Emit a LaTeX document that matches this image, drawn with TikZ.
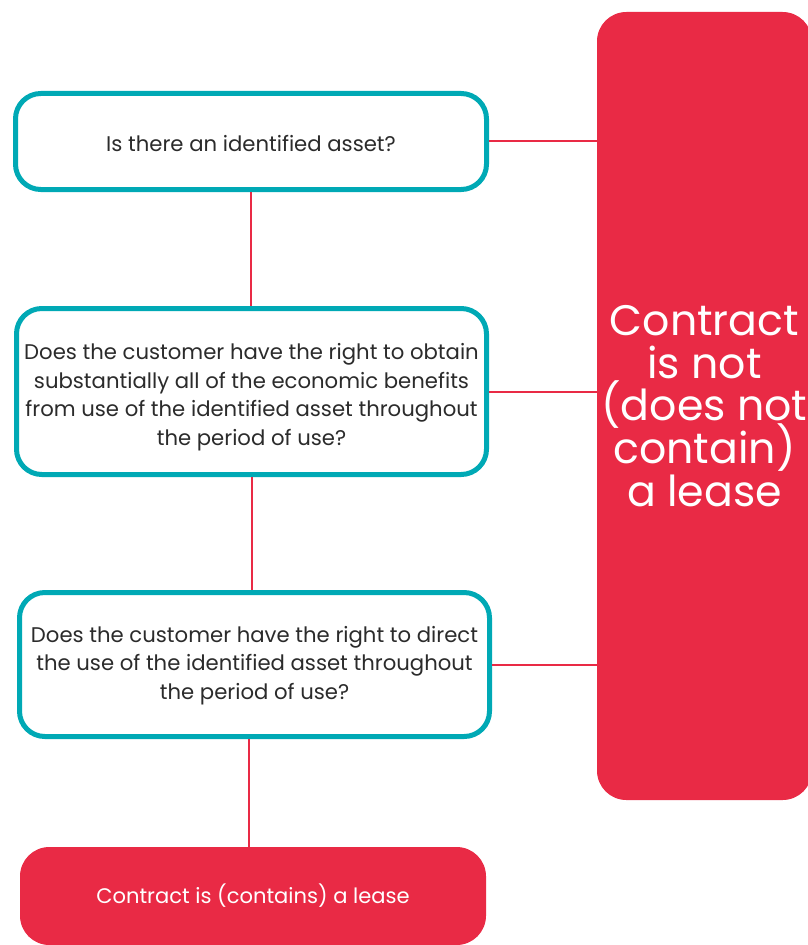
\documentclass[tikz,border=0pt]{standalone}
\usepackage{fontspec}
\setmainfont{Poppins}
\definecolor{kred}{HTML}{E92A45}
\definecolor{kteal}{HTML}{00A9B5}
\definecolor{ktext}{HTML}{2B2B2B}
\newcommand\qfont{\fontsize{15.9pt}{21.5pt}\selectfont\lineskiplimit=-20pt\relax}
\newcommand\bigredfont{\fontsize{32pt}{32pt}\selectfont\lineskiplimit=-30pt\relax}
\begin{document}
\begin{tikzpicture}[x=0.75pt,y=-0.75pt,
  qbox/.style={draw=kteal, line width=3.75pt, rounded corners=19pt, fill=white, inner sep=0pt},
  qtext/.style={text=ktext, align=center, font=\qfont, inner sep=0pt},
  redbox/.style={fill=kred, rounded corners=22pt, text=white, align=center, inner sep=0pt},
  link/.style={draw=kred, line width=1.5pt}]
\useasboundingbox (0,0) rectangle (807,945);
\node[redbox, minimum width=215*0.75pt, minimum height=788*0.75pt,
  font=\bigredfont] (no) at (704.5,406)
  {Contract\\is not\\(does not\\contain)\\a lease};
\node[qbox, minimum width=471*0.75pt, minimum height=96*0.75pt] (q1) at (251,141.5) {};
\node[qtext] (q1t) at ([yshift=-1.5pt]q1.center) {Is there an identified asset?};
\node[qbox, minimum width=470*0.75pt, minimum height=166*0.75pt] (q2) at (251.5,391.5) {};
\node[qtext] (q2t) at ([yshift=-4.2pt]q2.center)
  {Does the customer have the right to obtain\\substantially all of the economic benefits\\from use of the identified asset throughout\\the period of use?};
\node[qbox, minimum width=470*0.75pt, minimum height=144*0.75pt] (q3) at (254.5,664.5) {};
\node[qtext] (q3t) at ([yshift=-0.8pt]q3.center)
  {Does the customer have the right to direct\\the use of the identified asset throughout\\the period of use?};
\node[redbox, minimum width=466*0.75pt, minimum height=98*0.75pt,
  font=\fontsize{15.8pt}{18pt}\selectfont] (yes) at (253,896)
  {Contract is (contains) a lease};
\draw[link] (q1.east) -- (q1.east -| no.west);
\draw[link] (q2.east) -- (q2.east -| no.west);
\draw[link] (q3.east) -- (q3.east -| no.west);
\draw[link] (q1.south) -- (q1.south |- q2.north);
\draw[link] (q2.south) -- (q2.south |- q3.north);
\draw[link] ([xshift=-4.5pt]q3.south) -- ([xshift=-4.5pt]q3.south |- yes.north);
\end{tikzpicture}
\end{document}
